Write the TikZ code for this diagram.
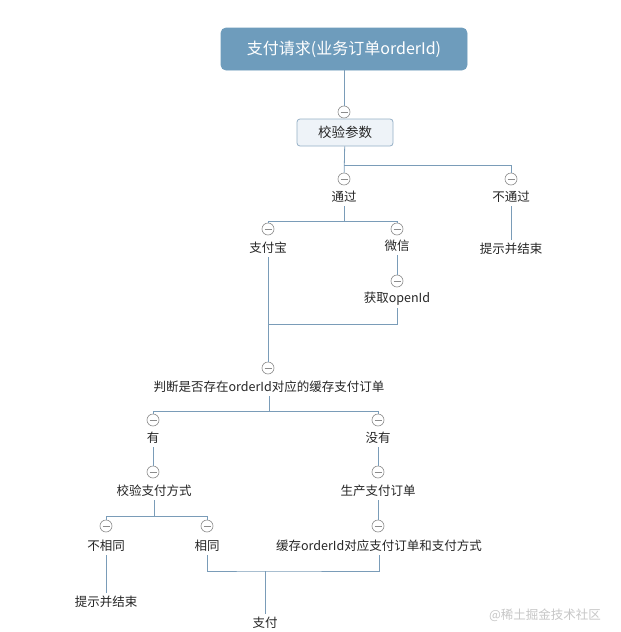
\documentclass[tikz,border=0pt]{standalone}
\usepackage{fontspec}
\newfontfamily\cjk{Noto Sans CJK SC}
\definecolor{linec}{HTML}{7A9CB8}
\definecolor{titlec}{HTML}{6E9CBC}
\definecolor{boxc}{HTML}{EEF3F8}
\definecolor{foldc}{HTML}{8C8C8C}
\begin{document}
\begin{tikzpicture}[x=1pt,y=-1pt,line width=0.8pt,
txt/.style={font=\cjk\fontsize{12.5}{14}\selectfont,text=black!85,inner sep=0pt,minimum height=18pt},
fold/.style={circle,draw=foldc,fill=white,line width=0.6pt,minimum size=12pt,inner sep=0pt,
  path picture={\draw[foldc,line width=0.6pt] ([xshift=-3.5pt]path picture bounding box.center) -- ([xshift=3.5pt]path picture bounding box.center);}},
conn/.style={draw=linec,line width=0.8pt}]
\useasboundingbox (0,0) rectangle (621,632);
\fill[white] (0,0) rectangle (621,632);
% lines first, nodes on top
\begin{scope}[every node/.style={txt}]
\node[draw=titlec,fill=titlec,rounded corners=5pt,minimum width=246pt,minimum height=42pt,
  text=white,font=\cjk\fontsize{16}{18}\selectfont] (req) at (344,49) {支付请求(业务订单orderId)};%root
\node[draw=linec!80,fill=boxc,rounded corners=3pt,minimum width=96pt,minimum height=27pt,
  font=\cjk\fontsize{13.5}{16}\selectfont] (chk) at (345,132.5) {校验参数};
\node (pass) at (344,197) {通过};
\node (fail) at (511,197) {不通过};
\node (failend) at (511,249) {提示并结束};
\node (ali) at (268,248) {支付宝};
\node (wx) at (397,246) {微信};
\node (openid) at (397,299) {获取openId};
\node (judge) at (269,387) {判断是否存在orderId对应的缓存支付订单};
\node (yes) at (153,438) {有};
\node (no) at (378,438) {没有};
\node (chkway) at (154,491) {校验支付方式};
\node (gen) at (378,491) {生产支付订单};
\node (diff) at (106,546) {不相同};
\node (same) at (207,546) {相同};
\node (cache) at (379,546) {缓存orderId对应支付订单和支付方式};
\node (diffend) at (106,602) {提示并结束};
\node (pay) at (265,623) {支付};
\node[text=black!22] (mark) at (545,615) {@稀土掘金技术社区};
\end{scope}
% fold marks
\node[fold] (fchk) at (344,112) {};
\node[fold] (fpass) at (344,179) {};
\node[fold] (ffail) at (511,179) {};
\node[fold] (fali) at (268,229) {};
\node[fold] (fwx) at (397,229) {};
\node[fold] (fopenid) at (397,281) {};
\node[fold] (fjudge) at (268,368) {};
\node[fold] (fyes) at (153,420) {};
\node[fold] (fno) at (378,420) {};
\node[fold] (fchkway) at (153,472) {};
\node[fold] (fgen) at (378,472) {};
\node[fold] (fdiff) at (106,526) {};
\node[fold] (fsame) at (207,526) {};
\node[fold] (fcache) at (378,526) {};
% junctions
\coordinate (j1) at (344,165);
\coordinate (j2l) at (268,221);
\coordinate (j2r) at (397,221);
\coordinate (j3) at (268,324);
\coordinate (j4l) at (153,411);
\coordinate (j4r) at (378,411);
\coordinate (j5l) at (106,516);
\coordinate (j5r) at (207,516);
\coordinate (j6) at (265,571);
\begin{scope}[every path/.style={conn}]
\draw (req) -- (fchk);
\draw (chk) -- (fpass);
\draw (j1) -| (ffail);
\draw (fail) -- (failend);
\draw (pass) -- (pass|-j2l);
\draw (fali) -- (j2l) -- (j2r) -- (fwx);
\draw (wx) -- (fopenid);
\draw (ali) -- (fjudge);
\draw (openid) |- (j3);
\draw (judge) -- (judge|-j4l);
\draw (fyes) -- (j4l) -- (j4r) -- (fno);
\draw (yes) -- (fchkway);
\draw (no) -- (fgen);
\draw (chkway) -- (chkway|-j5l);
\draw (fdiff) -- (j5l) -- (j5r) -- (fsame);
\draw (gen) -- (fcache);
\draw (diff) -- (diffend);
\draw (same) |- (j6) -| (cache);
\draw (j6) -- (pay);
\end{scope}
\end{tikzpicture}
\end{document}
